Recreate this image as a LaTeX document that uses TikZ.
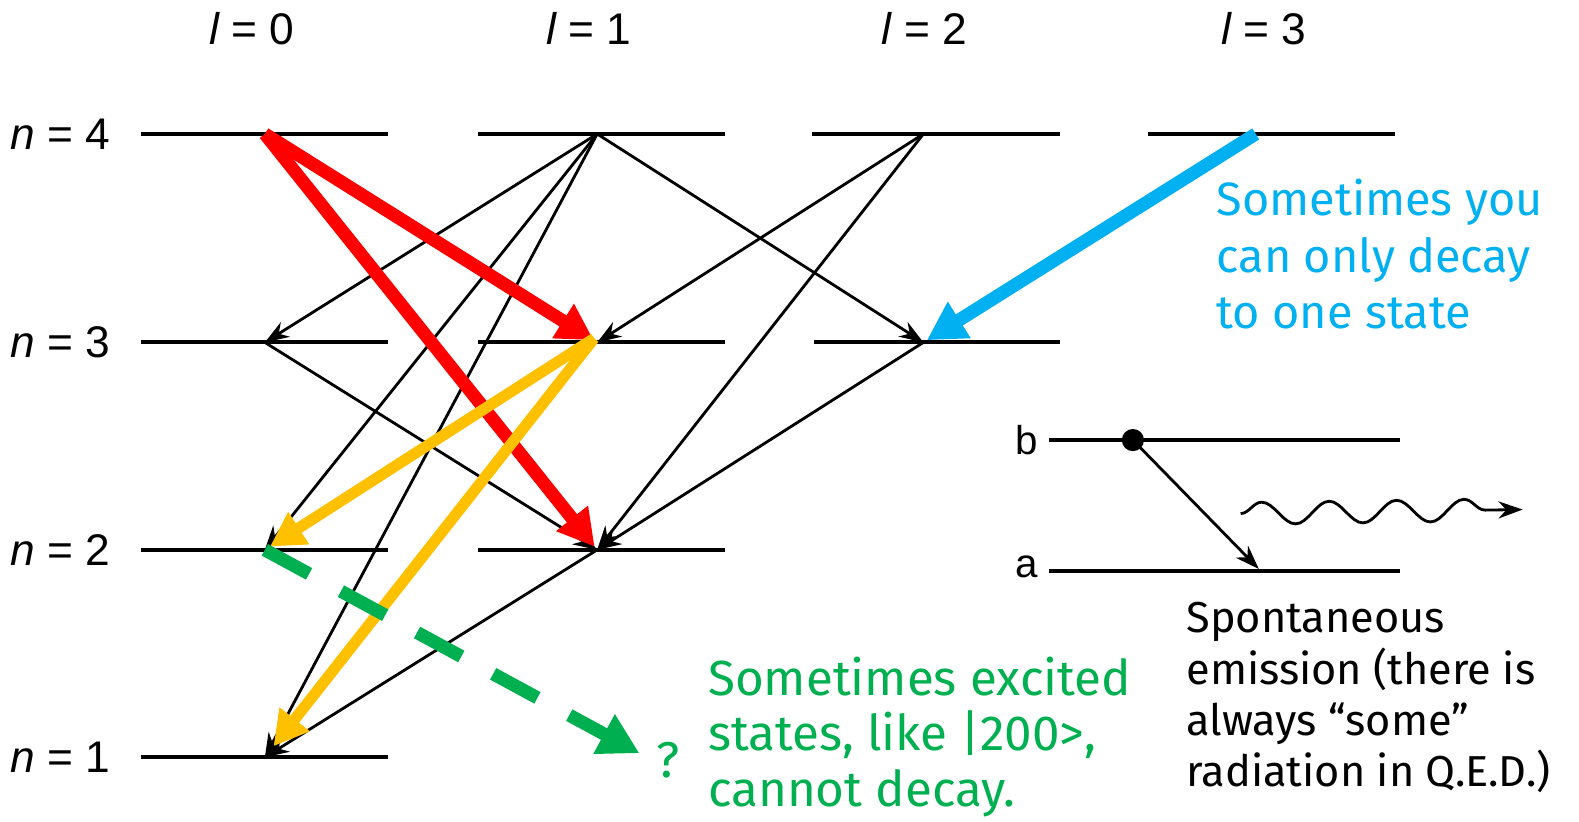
\documentclass[tikz,border=0pt]{standalone}
\usepackage{fontspec}
\setmainfont{Liberation Sans}
\newfontfamily\comic{Fira Sans}
\usetikzlibrary{arrows.meta,decorations.pathmorphing}
\definecolor{redA}{RGB}{255,0,0}
\definecolor{yelA}{RGB}{255,192,0}
\definecolor{bluA}{RGB}{0,176,240}
\definecolor{grnA}{RGB}{0,176,80}
\begin{document}
\begin{tikzpicture}[x=1pt,y=-1pt,
  level/.style={line width=4pt},
  lab/.style={font=\fontsize{44}{50}\selectfont, inner sep=0pt},
  trans/.style={line width=2.8pt,-{Stealth[length=24pt,width=17pt]}},
  redar/.style={draw=redA,line width=13pt,-{Triangle[length=36pt,width=38pt]}},
  yelar/.style={draw=yelA,line width=11pt,-{Triangle[length=34pt,width=36pt]}},
  bluar/.style={draw=bluA,line width=13pt,-{Triangle[length=38pt,width=40pt]}},
  grnar/.style={draw=grnA,line width=13pt,dash pattern=on 50pt off 36pt,-{Triangle[length=40pt,width=42pt]}},
  comictxt/.style={font=\comic\fontsize{46.5}{56}\selectfont, inner sep=0pt, align=left},
  grntxtst/.style={font=\comic\fontsize{49}{55}\selectfont, inner sep=0pt, align=left},
  blacktxt/.style={font=\comic\fontsize{43}{51}\selectfont, inner sep=0pt, align=left}
]
\fill[white] (0,0) rectangle (1568,816);
\useasboundingbox (0,0) rectangle (1568,816);

% column labels
\node[lab] (L0) at (250,28) {{\itshape l} = 0};
\node[lab] (L1) at (585,28) {{\itshape l} = 1};
\node[lab] (L2) at (918,28) {{\itshape l} = 2};
\node[lab] (L3) at (1255,28) {{\itshape l} = 3};
% row labels
\node[lab] (N4) at (60,133) {{\itshape n} = 4};
\node[lab] (N3) at (60,340) {{\itshape n} = 3};
\node[lab] (N2) at (60,546) {{\itshape n} = 2};
\node[lab] (N1) at (60,752) {{\itshape n} = 1};

% levels
\draw[level] (140,133) -- (385,133);
\draw[level] (475,133) -- (720,133);
\draw[level] (806,133) -- (1053,133);
\draw[level] (1140,133) -- (1385,133);
\draw[level] (140,340) -- (385,340);
\draw[level] (475,340) -- (720,340);
\draw[level] (808,340) -- (1053,340);
\draw[level] (140,546) -- (385,546);
\draw[level] (475,546) -- (720,546);
\draw[level] (140,752) -- (385,752);

% states
\coordinate (s4) at (263,133);
\coordinate (p4) at (593,133);
\coordinate (d4) at (917,133);
\coordinate (f4) at (1247,133);
\coordinate (s3) at (263,340);
\coordinate (p3) at (593,340);
\coordinate (d3) at (917,340);
\coordinate (s2) at (263,546);
\coordinate (p2) at (593,546);
\coordinate (s1) at (263,752);

% black transitions
\draw[trans] (p4) -- (s3);
\draw[trans] (p4) -- (s2);
\draw[trans] (p4) -- (s1);
\draw[trans] (p4) -- (d3);
\draw[trans] (d4) -- (p3);
\draw[trans] (d4) -- (p2);
\draw[trans] (s3) -- (p2);
\draw[trans] (d3) -- (p2);
\draw[trans] (p2) -- (s1);

% coloured transitions
\draw[redar,shorten >=4pt] (s4) -- (p3);
\draw[redar,shorten >=4pt] (s4) -- (p2);
\draw[yelar,shorten >=6pt] (590,336) -- (s2);
\draw[yelar,shorten >=14pt] (590,336) -- (s1);
\draw[bluar,shorten >=4pt] (f4) -- (d3);
\coordinate (q) at (635,748);
\draw[grnar] (s2) -- (q);
\node[font=\comic\fontsize{50}{56}\selectfont, text=grnA, inner sep=0pt] (qm) at (663,755) {?};

% texts
\node[comictxt, text=bluA, anchor=north west] (bluetxt) at (1208,178) {Sometimes you\\can only decay\\to one state};
\node[grntxtst, text=grnA, anchor=north west] (grntxt) at (703,652) {Sometimes excited\\states, like |200>,\\cannot decay.};
\node[blacktxt, anchor=north west] (spont) at (1178,598) {Spontaneous\\emission (there is\\always “some”\\radiation in Q.E.D.)};

% inset
\node[font=\fontsize{40}{48}\selectfont, inner sep=0pt] (bl) at (1020,437) {b};
\node[font=\fontsize{40}{48}\selectfont, inner sep=0pt] (al) at (1020,563) {a};
\draw[line width=3.5pt] (1042,437) -- (1390,437);
\draw[line width=3.5pt] (1042,567) -- (1390,567);
\coordinate (bdot) at (1125,437);
\coordinate (aend) at (1250,565);
\fill (bdot) circle (11pt);
\draw[trans] (bdot) -- (aend);
\coordinate (w0) at (1232,510);
\coordinate (w1) at (1512,506);
\draw[line width=2.8pt,decorate,decoration={snake,amplitude=11pt,segment length=67pt,post length=8pt},-{Stealth[length=24pt,width=17pt]}] (w0) -- (w1);
\end{tikzpicture}
\end{document}
